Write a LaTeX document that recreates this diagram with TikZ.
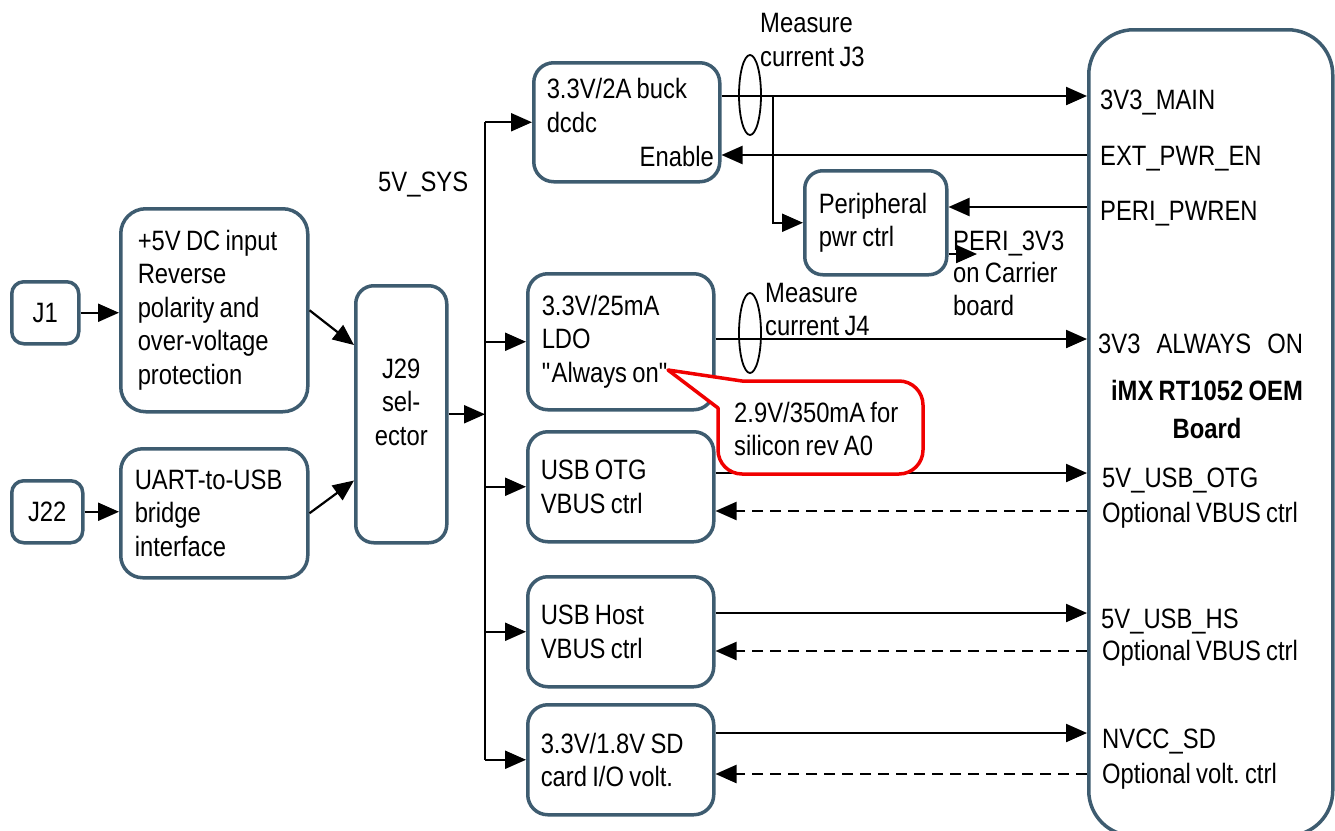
\documentclass[tikz,border=0pt]{standalone}
\usepackage{fontspec}
\setmainfont{Liberation Sans}[FakeStretch=0.85, WordSpace=0.8]
\usetikzlibrary{arrows.meta,calc,shapes.geometric}
\definecolor{boxc}{RGB}{62,92,112}
\definecolor{callred}{RGB}{240,0,0}
\begin{document}
\begin{tikzpicture}[x=1pt,y=-1pt,
  every node/.style={font=\fontsize{28}{33.5}\selectfont\frenchspacing, inner sep=0pt},
  box/.style={draw=boxc, line width=3.5pt, rounded corners=20pt, anchor=north west,
    align=flush left, inner xsep=14pt, fill=white},
  lbl/.style={anchor=base west},
  wire/.style={line width=2.2pt, black},
  conn/.style={wire, -{Triangle[length=21pt,width=18pt]}},
  dconn/.style={conn, dash pattern=on 11pt off 7pt},
  meas/.style={draw, ellipse, line width=1.8pt, minimum width=22pt, minimum height=80pt},
]
\useasboundingbox (0,0) rectangle (1335,830);

% ---------- boxes ----------
\node[box, rounded corners=12pt, align=center, text width=39pt, minimum height=62pt] (J1) at (10,280) {J1};
\node[box, rounded corners=12pt, align=center, text width=43pt, minimum height=62pt] (J22) at (10,479) {J22};
\node[box, rounded corners=25pt, inner xsep=17pt, text width=153pt, minimum height=203pt] (inp) at (119,207)
  {+5V DC input\\Reverse\\polarity and\\over-voltage\\protection};
\node[box, rounded corners=22pt, inner xsep=14pt, text width=159pt, minimum height=129pt] (uart) at (119,447)
  {UART-to-USB\\bridge\\interface};
\node[box, rounded corners=18pt, minimum width=91pt, minimum height=257pt] (J29) at (354,284) {};
\node[align=center] (J29t) at ($(J29.center)+(0,-12)$) {J29\\sel-\\ector};

\node[box, inner xsep=13pt, text width=160pt, minimum height=119pt] (buck) at (532,61)
  {3.3V/2A buck\\dcdc\\~};
\node[anchor=base east] (en) at (714,166) {Enable};
\node[box, rounded corners=18pt, inner xsep=14pt, text width=114pt, minimum height=104pt] (peri) at (803,169)
  {Peripheral\\pwr ctrl};
\node[box, inner xsep=14pt, text width=158pt, minimum height=136pt] (ldo) at (526,272)
  {3.3V/25mA\\LDO\\\textquotedbl Always on\textquotedbl};
\node[box, inner xsep=13pt, text width=160pt, minimum height=110pt] (otg) at (526,430)
  {USB OTG\\VBUS ctrl};
\node[box, inner xsep=13pt, text width=160pt, minimum height=110pt] (host) at (526,575)
  {USB Host\\VBUS ctrl};
\node[box, inner xsep=13pt, text width=160pt, minimum height=110pt] (sd) at (526,703)
  {3.3V/1.8V SD\\card I/O volt.};

\node[draw=boxc, line width=3.5pt, rounded corners=45pt, anchor=north west,
  minimum width=244pt, minimum height=806pt] (board) at (1087,28) {};

% ---------- left side ----------
\draw[conn] (J1.east) -- (J1.east -| inp.west);
\draw[conn] (J22.east) -- (J22.east -| uart.west);
\draw[conn] (inp.east) -- ($(J29.north west)+(0,61)$);
\draw[conn] (uart.east) -- ($(J29.south west)+(0,-64)$);

% ---------- 5V_SYS bus ----------
\coordinate (busX) at (485,0);
\coordinate (busT) at (buck.west -| busX);
\coordinate (busB) at (sd.west -| busX);
\draw[wire] (busT) -- (busB);
\draw[conn] (J29.east) -- (J29.east -| busX);
\draw[conn] (busT) -- (buck.west);
\draw[conn] (ldo.west -| busX) -- (ldo.west);
\draw[conn] (otg.west -| busX) -- (otg.west);
\draw[conn] (host.west -| busX) -- (host.west);
\draw[conn] (busB) -- (sd.west);
\node[lbl] (sys) at (378,191) {5V\_SYS};

% ---------- right side rows ----------
\coordinate (yMain) at (0,96);
\coordinate (yExt) at (0,155);
\coordinate (yPeri) at (0,207);
\coordinate (yAlw) at (0,339);
\coordinate (yOtg) at (0,473);
\coordinate (yOtgD) at (0,511);
\coordinate (yHs) at (0,613);
\coordinate (yHsD) at (0,651);
\coordinate (ySd) at (0,733);
\coordinate (ySdD) at (0,774);

\draw[conn] (buck.east |- yMain) -- (board.west |- yMain);
\draw[conn] (board.west |- yExt) -- (buck.east |- yExt);
\coordinate (br) at (773,96);
\draw[conn] (br) |- (peri.west);
\draw[conn] (board.west |- yPeri) -- (peri.east |- yPeri);
\coordinate (p3end) at (977,254);
\draw[conn] (peri.east |- p3end) -- (p3end);
\draw[conn] (ldo.east |- yAlw) -- (board.west |- yAlw);
\draw[conn] (otg.east |- yOtg) -- (board.west |- yOtg);
\draw[dconn] (board.west |- yOtgD) -- (otg.east |- yOtgD);
\draw[conn] (host.east |- yHs) -- (board.west |- yHs);
\draw[dconn] (board.west |- yHsD) -- (host.east |- yHsD);
\draw[conn] (sd.east |- ySd) -- (board.west |- ySd);
\draw[dconn] (board.west |- ySdD) -- (sd.east |- ySdD);

% ---------- measure loops ----------
\node[meas] (e3) at (750,95) {};
\node[meas] (e4) at (750,333) {};
\node[lbl] (m3a) at (760,32) {Measure};
\node[lbl] (m3b) at (760,66) {current J3};
\node[lbl] (m4a) at (765,302) {Measure};
\node[lbl] (m4b) at (765,335) {current J4};

% ---------- PERI_3V3 ----------
\node[lbl] (pa) at (953,250) {PERI\_3V3};
\node[lbl] (pb) at (953,282) {on Carrier};
\node[lbl] (pc) at (953,315) {board};

% ---------- callout ----------
\draw[callred, line width=3.5pt, fill=white, line join=round]
  (668,370) -- (742,381) [rounded corners=24pt] -- (923,381) -- (923,474) -- (718,474)
  [sharp corners] -- (718,408) -- cycle;
\node[lbl] (ca) at (734,422) {2.9V/350mA for};
\node[lbl] (cb) at (734,455) {silicon rev A0};

% ---------- board labels ----------
\node[lbl] (b1) at (1100,109) {3V3\_MAIN};
\node[lbl] (b2) at (1100,165) {EXT\_PWR\_EN};
\node[lbl] (b3) at (1100,220) {PERI\_PWREN};
\node[lbl] (b4) at (1098,353) {3V3\hspace{16pt}ALWAYS\hspace{16pt}ON};
\node[anchor=base, font=\fontsize{28}{33.5}\selectfont\bfseries] (bt1) at (1207,400) {iMX RT1052 OEM};
\node[anchor=base, font=\fontsize{28}{33.5}\selectfont\bfseries] (bt2) at (1207,438) {Board};
\node[lbl] (b5) at (1102,487) {5V\_USB\_OTG};
\node[lbl] (b6) at (1102,522) {Optional VBUS ctrl};
\node[lbl] (b7) at (1101,628) {5V\_USB\_HS};
\node[lbl] (b8) at (1102,660) {Optional VBUS ctrl};
\node[lbl] (b9) at (1102,748) {NVCC\_SD};
\node[lbl] (b10) at (1102,783) {Optional volt. ctrl};
\end{tikzpicture}
\end{document}
